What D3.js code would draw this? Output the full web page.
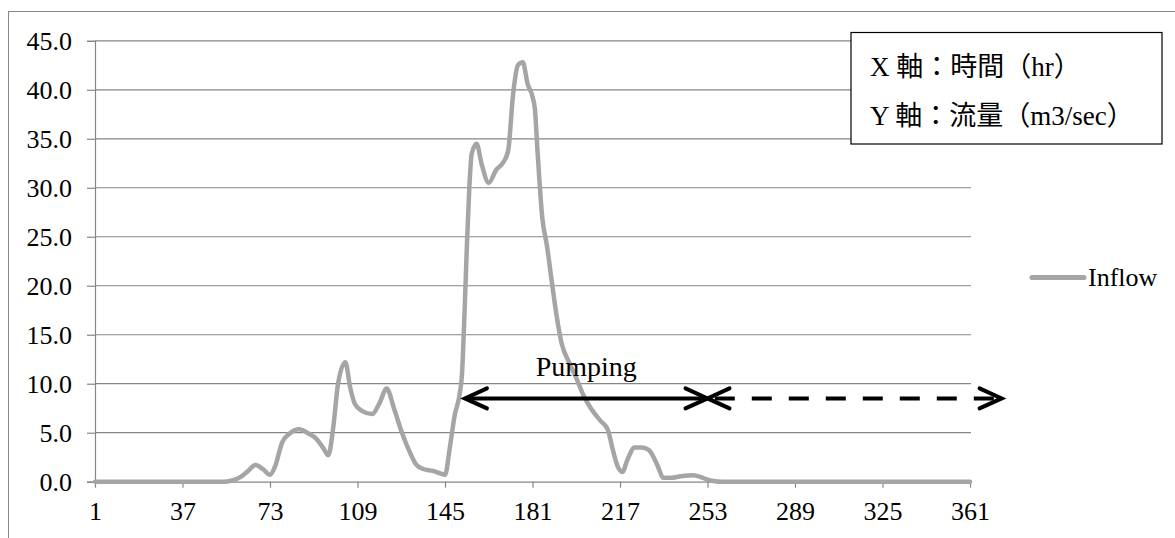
<!DOCTYPE html>
<html>
<head>
<meta charset="utf-8">
<script src="https://cdn.jsdelivr.net/npm/d3@7"></script>
<style>
  html, body { margin: 0; padding: 0; background: #fff; }
  svg { display: block; }
  text { font-family: "Liberation Serif", "Noto Sans CJK JP", serif; fill: #000; }
</style>
</head>
<body>
<svg id="chart" width="1175" height="538"></svg>
<script>
// Inflow hydrograph (m3/sec) against elapsed time (hr)
const hours = [1, 54, 57, 61, 64, 67, 70, 73, 75, 78, 81, 85, 89, 92, 95, 97, 99, 101, 104, 106,
  108, 111, 115, 118, 121, 124, 127, 130, 133, 136, 140, 143, 145, 147, 149, 151, 152, 153, 154, 155,
  156, 158, 160, 163, 166, 169, 171, 173, 175, 177, 179, 181, 182, 183, 185, 187, 189, 191, 193, 196,
  199, 202, 205, 209, 212, 214, 216, 218, 220, 223, 226, 229, 232, 235, 238, 242, 247, 250, 253, 256,
  259, 361];
const inflow = [0, 0, 0.1, 0.5, 1.1, 1.7, 1.3, 0.7, 1.5, 4.0, 4.9, 5.35, 4.9, 4.4, 3.4, 2.7, 5.5, 10.0, 12.2, 9.6,
  7.9, 7.2, 6.9, 8.0, 9.5, 7.5, 5.2, 3.3, 1.8, 1.3, 1.1, 0.85, 0.7, 3.5, 6.8, 8.9, 11.0, 17.0, 24.0, 30.0,
  33.5, 34.5, 32.5, 30.5, 31.8, 32.6, 33.8, 39.5, 42.5, 42.8, 40.6, 39.3, 38.0, 34.0, 27.0, 24.0, 20.3, 16.8, 14.1, 12.2,
  10.6, 8.8, 7.5, 6.2, 5.3, 3.3, 1.6, 1.0, 2.2, 3.5, 3.5, 3.2, 1.9, 0.4, 0.4, 0.55, 0.65, 0.5, 0.2, 0.05,
  0, 0];

const xTicks = [1, 37, 73, 109, 145, 181, 217, 253, 289, 325, 361];
const yTicks = [0, 5, 10, 15, 20, 25, 30, 35, 40, 45];

const seriesName = "Inflow";
const axisNotes = ["X 軸：時間（hr）", "Y 軸：流量（m3/sec）"];

// Pumping period and the period after it (hr), drawn at a fixed flow level
const pumpStart = 153.2;
const pumpEnd = 253;
const afterEnd = 374;
const arrowLevel = 8.5;
const pumpLabel = "Pumping";

const svg = d3.select("#chart");
const gridColor = "#868686";
const lineColor = "#a5a5a5";
const tickFont = 26;

const x = d3.scaleLinear().domain([1, 361]).range([95, 970]);
const y = d3.scaleLinear().domain([0, 45]).range([481.7, 40.8]);

// outer chart frame
svg.append("rect")
  .attr("x", 8.5).attr("y", 11.5)
  .attr("width", 1200).attr("height", 600)
  .attr("fill", "none").attr("stroke", gridColor).attr("stroke-width", 1);

// horizontal gridlines
svg.append("g").selectAll("line").data(yTicks.filter(d => d > 0)).join("line")
  .attr("x1", x(1)).attr("x2", x(361) + 1)
  .attr("y1", d => y(d)).attr("y2", d => y(d))
  .attr("stroke", gridColor).attr("stroke-width", 1.2);

// y axis
const yAxis = svg.append("g")
  .attr("transform", `translate(${x(1)},0)`)
  .call(d3.axisLeft(y).tickValues(yTicks).tickSize(8).tickPadding(15).tickFormat(d3.format(".1f")));
yAxis.select(".domain").attr("stroke", gridColor).attr("stroke-width", 1.2);
yAxis.selectAll(".tick line").attr("stroke", gridColor).attr("stroke-width", 1.2);
yAxis.selectAll("text").attr("font-size", tickFont).attr("font-family", "Liberation Serif").attr("fill", "#000");

// x axis
const xAxis = svg.append("g")
  .attr("transform", `translate(0,${y(0)})`)
  .call(d3.axisBottom(x).tickValues(xTicks).tickSize(6).tickSizeOuter(0).tickFormat(d3.format("d")));
xAxis.select(".domain").attr("stroke", gridColor).attr("stroke-width", 1.2);
xAxis.selectAll(".tick line").attr("stroke", gridColor).attr("stroke-width", 1.2);
xAxis.selectAll("text").attr("font-size", tickFont).attr("font-family", "Liberation Serif").attr("fill", "#000")
  .attr("y", 38).attr("dy", 0);

// inflow line
const line = d3.line()
  .x((d, i) => x(hours[i]))
  .y(d => y(d))
  .curve(d3.curveMonotoneX);
svg.append("path")
  .datum(inflow)
  .attr("d", line)
  .attr("fill", "none")
  .attr("stroke", lineColor)
  .attr("stroke-width", 4.5)
  .attr("stroke-linejoin", "round")
  .attr("stroke-linecap", "round");

// arrows
function chevron(tipX, tipY, dir) {
  const len = 22, half = 10;
  return `M${tipX - dir * len},${tipY - half}L${tipX},${tipY}L${tipX - dir * len},${tipY + half}`;
}
const ay = y(arrowLevel);
const arrows = svg.append("g").attr("stroke", "#000").attr("fill", "none")
  .attr("stroke-width", 4).attr("stroke-linecap", "round").attr("stroke-linejoin", "miter");
arrows.append("line").attr("x1", x(pumpStart) + 2).attr("x2", x(pumpEnd) - 2)
  .attr("y1", ay).attr("y2", ay);
arrows.append("path").attr("d", chevron(x(pumpStart), ay, -1));
arrows.append("path").attr("d", chevron(x(pumpEnd), ay, 1));
arrows.append("line").attr("x1", x(pumpEnd)).attr("x2", x(afterEnd) - 2)
  .attr("y1", ay).attr("y2", ay)
  .attr("stroke-linecap", "butt")
  .attr("stroke-dasharray", "20,17").attr("stroke-dashoffset", 29.7);
arrows.append("path").attr("d", chevron(x(pumpEnd), ay, -1));
arrows.append("path").attr("d", chevron(x(afterEnd), ay, 1));

svg.append("text")
  .attr("x", (x(pumpStart) + x(pumpEnd)) / 2)
  .attr("y", 376)
  .attr("text-anchor", "middle")
  .attr("font-size", 28)
  .text(pumpLabel);

// axis note box
const box = svg.append("g");
box.append("rect")
  .attr("x", 851).attr("y", 32.5).attr("width", 311).attr("height", 111.5)
  .attr("fill", "#fff").attr("stroke", "#000").attr("stroke-width", 1.2);
box.selectAll("text").data(axisNotes).join("text")
  .attr("x", 870)
  .attr("y", (d, i) => 76 + i * 48.5)
  .attr("font-size", 27)
  .text(d => d);

// legend
const legend = svg.append("g");
legend.append("line")
  .attr("x1", 1032).attr("x2", 1084).attr("y1", 277.5).attr("y2", 277.5)
  .attr("stroke", lineColor).attr("stroke-width", 5).attr("stroke-linecap", "round");
legend.append("text")
  .attr("x", 1088).attr("y", 286)
  .attr("font-size", 26)
  .text(seriesName);
</script>
</body>
</html>
